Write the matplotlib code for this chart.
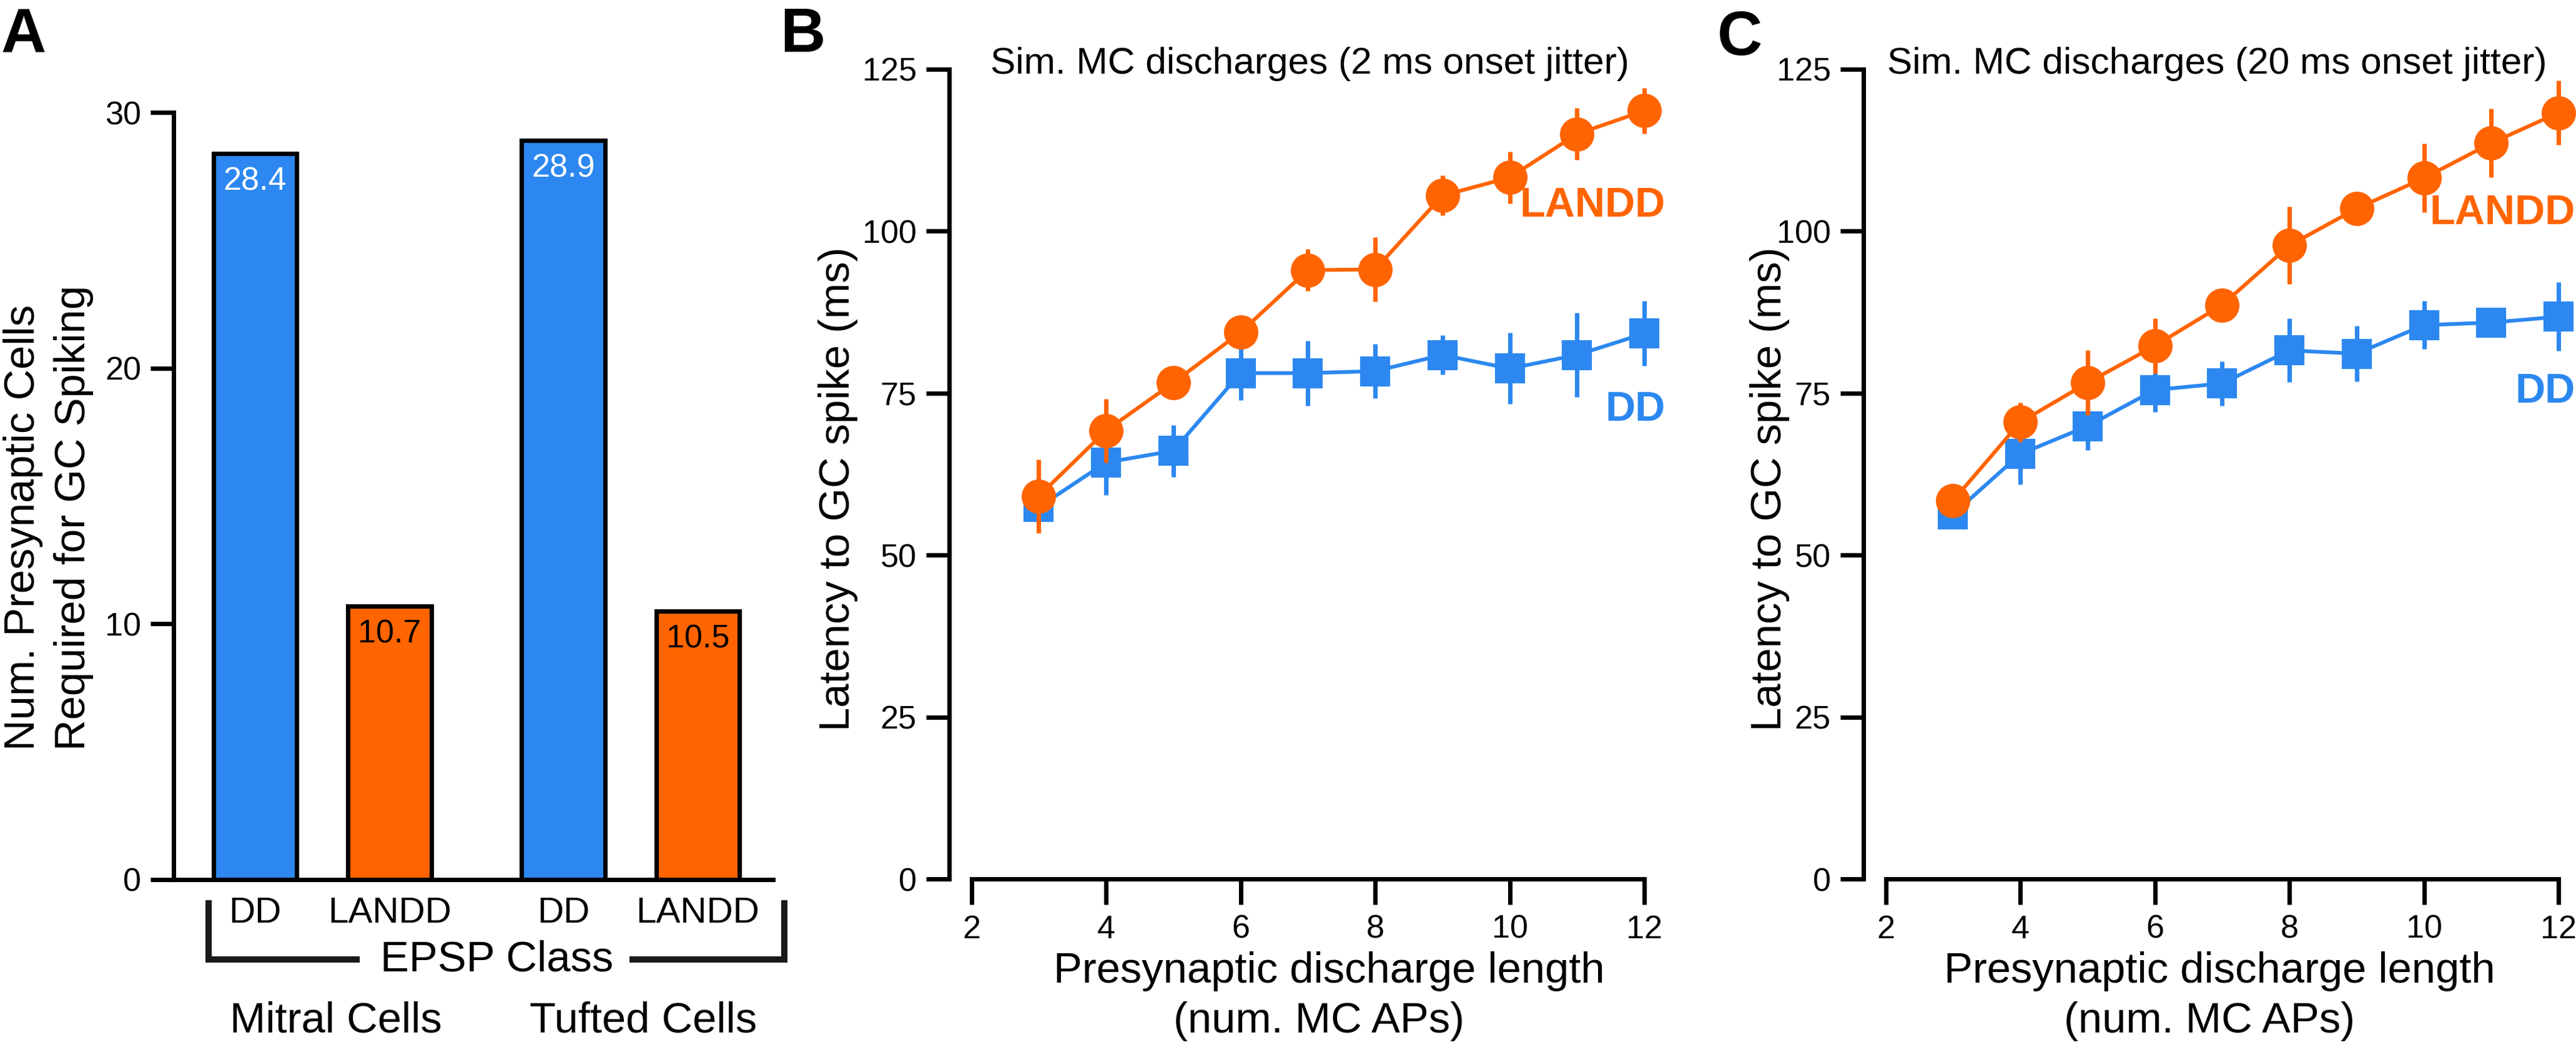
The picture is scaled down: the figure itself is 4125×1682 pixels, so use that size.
import matplotlib
matplotlib.use('Agg')
import matplotlib.pyplot as plt
from matplotlib.lines import Line2D

plt.rcParams['font.family'] = ['Liberation Sans', 'DejaVu Sans']

W, H = 4125, 1682
DPI = 300

# ---------------- data ----------------
# Panel A
bar_labels = ['DD', 'LANDD', 'DD', 'LANDD']
bar_values = [28.4, 10.7, 28.9, 10.5]
bar_value_text = ['28.4', '10.7', '28.9', '10.5']
cell_groups = ['Mitral Cells', 'Tufted Cells']
a_yticks = [0, 10, 20, 30]

# Panels B and C
ap_counts = [3, 4, 5, 6, 7, 8, 9, 10, 11, 12]
b_landd = [59.1, 69.2, 76.6, 84.4, 94.0, 94.1, 105.5, 108.3, 115.0, 118.6]
b_landd_err = [5.7, 4.9, 1.5, 1.5, 3.2, 5.0, 3.1, 4.0, 4.0, 3.5]
b_dd = [57.4, 64.3, 66.1, 78.1, 78.1, 78.4, 80.9, 78.8, 80.9, 84.2]
b_dd_err = [2.0, 5.0, 4.0, 4.2, 5.0, 4.2, 3.0, 5.5, 6.5, 5.0]
c_landd = [58.4, 70.5, 76.6, 82.3, 88.6, 97.8, 103.5, 108.2, 113.6, 118.3]
c_landd_err = [1.5, 3.0, 5.0, 4.2, 1.0, 6.0, 2.0, 5.3, 5.3, 5.0]
c_dd = [56.3, 65.6, 69.9, 75.5, 76.5, 81.6, 81.1, 85.5, 85.9, 86.8]
c_dd_err = [1.5, 4.7, 3.7, 3.4, 3.4, 4.9, 4.3, 3.7, 1.0, 5.3]
line_xticks = [2, 4, 6, 8, 10, 12]
line_yticks = [0, 25, 50, 75, 100, 125]
titles = ['Sim. MC discharges (2 ms onset jitter)',
          'Sim. MC discharges (20 ms onset jitter)']

BLUE = '#2C88F0'
ORANGE = '#FF6400'

LW = 1.7  # spine / tick width in pt


def fx(x):
    return x / W


def fy(y):
    return 1 - y / H


def ax_rect(l, t, r, b):
    return [fx(l), fy(b), (r - l) / W, (b - t) / H]


fig = plt.figure(figsize=(W / DPI, H / DPI), dpi=DPI)

# ---------------- Panel A ----------------
axA = fig.add_axes(ax_rect(278, 180, 1238, 1409))
bar_x = [0, 1, 2.29, 3.29]
bar_colors = [BLUE, ORANGE, BLUE, ORANGE]
axA.bar(bar_x, bar_values, width=0.62, color=bar_colors,
        edgecolor='black', linewidth=LW, zorder=2)
for xi, v, t, c in zip(bar_x, bar_values, bar_value_text, bar_colors):
    axA.text(xi, v - 1.1, t, ha='center', va='center', fontsize=12.5,
             color='white' if c == BLUE else 'black', zorder=3)
axA.set_xlim(-0.606, 3.849)
axA.set_ylim(0, 30)
axA.set_yticks(a_yticks)
axA.set_xticks(bar_x)
axA.set_xticklabels(bar_labels, fontsize=14)
for s in ['top', 'right']:
    axA.spines[s].set_visible(False)
axA.spines['left'].set_linewidth(LW)
axA.spines['bottom'].set_linewidth(LW)
axA.spines['left'].set_bounds(0, 30)
axA.tick_params(axis='y', length=8.9, width=LW, pad=3.6, labelsize=12.5)
axA.tick_params(axis='x', length=0, pad=6.5)

# y label (two lines)
fig.text(fx(37), fy(1202), 'Num. Presynaptic Cells', rotation=90,
         ha='center', va='bottom', fontsize=16.5)
fig.text(fx(118), fy(1202), 'Required for GC Spiking', rotation=90,
         ha='center', va='bottom', fontsize=16.5)

# bracket + group labels
blw = 2.4
for xs, ys in [([334, 334, 571], [1447, 1537, 1537]),
               ([1013, 1256, 1256], [1537, 1537, 1447])]:
    fig.add_artist(Line2D([fx(v) for v in xs], [fy(v) for v in ys],
                          color='#1a1a1a', lw=blw, solid_capstyle='projecting',
                          solid_joinstyle='miter'))
fig.text(fx(796), fy(1537), 'EPSP Class', ha='center', va='center', fontsize=16.5)
fig.text(fx(538), fy(1636), cell_groups[0], ha='center', va='center', fontsize=16.5)
fig.text(fx(1030), fy(1636), cell_groups[1], ha='center', va='center', fontsize=16.5)


# ---------------- Panels B, C ----------------
def line_panel(rect, landd, landd_err, dd, dd_err, title, title_x, ylab_x,
               xlab_x, landd_lab, dd_lab, lab_x):
    ax = fig.add_axes(rect)
    ax.errorbar(ap_counts, dd, yerr=dd_err, color=BLUE, marker='s', ms=10.4,
                lw=1.45, elinewidth=LW, capsize=0, clip_on=False, zorder=3)
    ax.errorbar(ap_counts, landd, yerr=landd_err, color=ORANGE, marker='o',
                ms=12.2, lw=1.45, elinewidth=LW, capsize=0, clip_on=False, zorder=4)
    ax.set_xlim(1.67, 12)
    ax.set_ylim(0, 125)
    ax.set_xticks(line_xticks)
    ax.set_yticks(line_yticks)
    for s in ['top', 'right']:
        ax.spines[s].set_visible(False)
    ax.spines['left'].set_linewidth(LW)
    ax.spines['bottom'].set_linewidth(LW)
    ax.spines['left'].set_bounds(0, 125)
    ax.spines['bottom'].set_bounds(2, 12)
    ax.tick_params(axis='y', length=8.9, width=LW, pad=3.6, labelsize=12.5)
    ax.tick_params(axis='x', length=9.8, width=LW, pad=3.8, labelsize=12.5)
    ax.text(lab_x, landd_lab, 'LANDD', color=ORANGE, fontsize=16,
            fontweight='bold', ha='right', va='center', clip_on=False)
    ax.text(lab_x, dd_lab, 'DD', color=BLUE, fontsize=16,
            fontweight='bold', ha='right', va='center', clip_on=False)
    fig.text(fx(title_x), fy(102), title, ha='center', va='center', fontsize=14.5)
    fig.text(fx(ylab_x), fy(783), 'Latency to GC spike (ms)', rotation=90,
             ha='center', va='center', fontsize=16.5)
    fig.text(fx(xlab_x), fy(1556), 'Presynaptic discharge length',
             ha='center', va='center', fontsize=16.5)
    fig.text(fx(xlab_x - 16), fy(1636), '(num. MC APs)',
             ha='center', va='center', fontsize=16.5)
    return ax


axB = line_panel(ax_rect(1520, 111, 2633, 1408), b_landd, b_landd_err,
                 b_dd, b_dd_err, titles[0], 2097, 1342, 2128,
                 103.9, 72.4, 12.31)
axC = line_panel(ax_rect(2984, 111, 4097, 1408), c_landd, c_landd_err,
                 c_dd, c_dd_err, titles[1], 3550, 2834, 3554,
                 102.7, 75.2, 12.25)

# panel letters
fig.text(fx(2), fy(85), 'A', fontsize=24, fontweight='bold', ha='left', va='baseline')
fig.text(fx(1322), fy(83), 'B', fontsize=24, fontweight='bold', ha='right', va='baseline')
fig.text(fx(2786), fy(88), 'C', fontsize=24, fontweight='bold', ha='center', va='baseline')

fig.savefig('out.png', dpi=DPI)
